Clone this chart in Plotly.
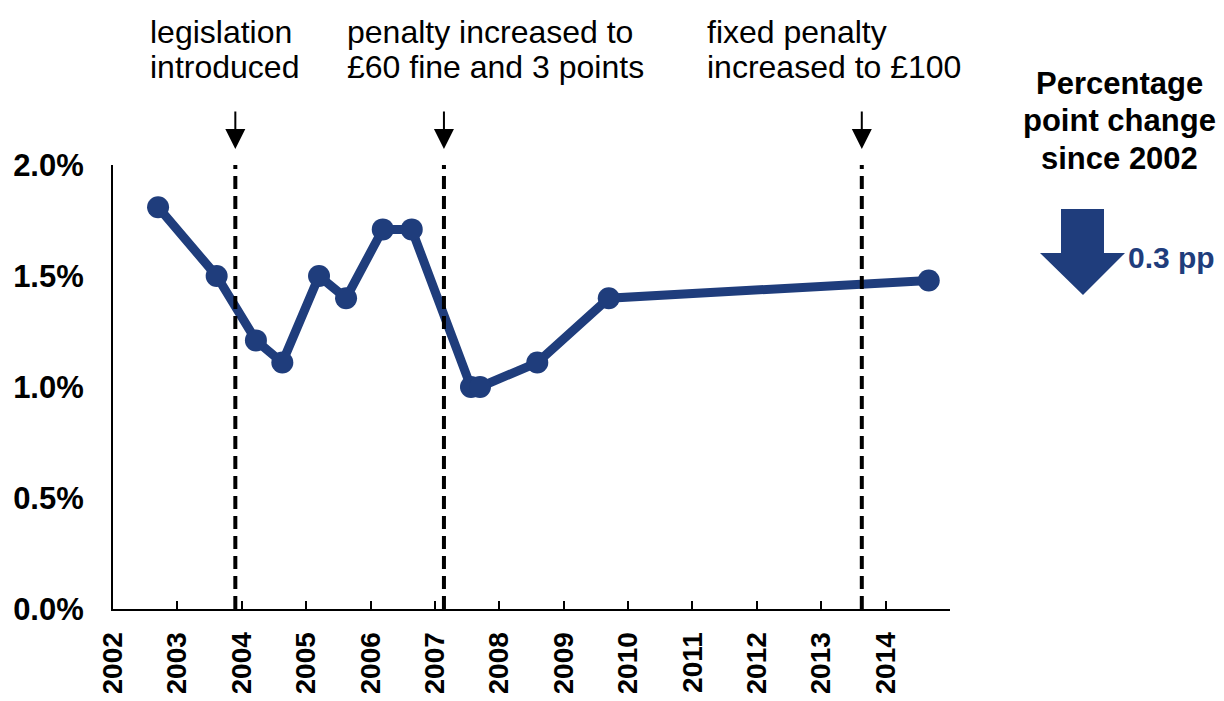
import plotly.graph_objects as go

# ---- data ----
years = [2002.70, 2003.61, 2004.22, 2004.63, 2005.20, 2005.62, 2006.19, 2006.64,
         2007.56, 2007.70, 2008.59, 2009.70, 2014.67]
rates = [1.81, 1.50, 1.21, 1.11, 1.50, 1.40, 1.71, 1.71, 1.00, 1.00, 1.11, 1.40, 1.48]
tick_years = list(range(2002, 2015))
tick_labels = [str(y) for y in tick_years]
y_ticks = [0.0, 0.5, 1.0, 1.5, 2.0]
y_tick_labels = ["0.0%", "0.5%", "1.0%", "1.5%", "2.0%"]
event_years = [2003.90, 2007.14, 2013.63]
event_labels = [["legislation", "introduced"],
                ["penalty increased to", "£60 fine and 3 points"],
                ["fixed penalty", "increased to £100"]]
change_title = ["Percentage", "point change", "since 2002"]
change_value = "0.3 pp"

BLUE = "#1F3D7C"
FONT = "Liberation Sans, Arial, sans-serif"
OFF = 8  # page body margin
W, H = 1224 - 2 * OFF, 701 - 2 * OFF
L, T = 105, 157
R = W - (950 - OFF)
B = H - (609 - OFF)
PW, PH = W - L - R, H - T - B


def px(x):
    """reference-window pixel x -> paper x"""
    return (x - OFF - L) / PW


def py(y):
    """reference-window pixel y -> paper y"""
    return (H - B - (y - OFF)) / PH


fig = go.Figure()
fig.add_trace(go.Scatter(
    x=years, y=rates, mode="lines+markers",
    line=dict(color=BLUE, width=9),
    marker=dict(color=BLUE, size=22),
    showlegend=False, hoverinfo="x+y",
))

shapes = []
for ev in event_years:
    shapes.append(dict(type="line", xref="x", yref="y", x0=ev, x1=ev, y0=0, y1=2.0,
                       line=dict(color="black", width=4, dash="13px,7px"), layer="above"))

# big down arrow (decoration)
ax_pts = [(1061, 209), (1104, 209), (1104, 253), (1125, 253), (1083, 295),
          (1040, 253), (1061, 253)]
path = "M " + " L ".join(f"{px(x):.5f},{py(y):.5f}" for x, y in ax_pts) + " Z"
shapes.append(dict(type="path", xref="paper", yref="paper", path=path,
                   fillcolor=BLUE, line=dict(width=0)))

annotations = []
# arrows above dashed lines
for ev in event_years:
    annotations.append(dict(x=ev, y=py(149), xref="x", yref="paper",
                            ax=0, ay=-46, axref="pixel", ayref="pixel",
                            showarrow=True, arrowhead=2, arrowsize=2, arrowwidth=2,
                            arrowcolor="black", text=" "))
# event texts
text_left = [148, 345, 705]
for left, lines in zip(text_left, event_labels):
    for i, line in enumerate(lines):
        annotations.append(dict(x=px(left), y=py(32 + 35 * i), xref="paper", yref="paper",
                                xanchor="left", yanchor="middle", showarrow=False,
                                text=line, font=dict(family=FONT, size=32, color="black")))
# right-side title
for i, line in enumerate(change_title):
    annotations.append(dict(x=px(1119), y=py(84 + 37 * i), xref="paper", yref="paper",
                            xanchor="center", yanchor="middle", showarrow=False,
                            text=f"<b>{line}</b>",
                            font=dict(family=FONT, size=31, color="black")))
annotations.append(dict(x=px(1126), y=py(257), xref="paper", yref="paper",
                        xanchor="left", yanchor="middle", showarrow=False,
                        text=f"<b>{change_value}</b>",
                        font=dict(family=FONT, size=30, color=BLUE)))

fig.update_layout(
    width=W, height=H,
    margin=dict(l=L, r=R, t=T, b=B, pad=0),
    paper_bgcolor="white", plot_bgcolor="white",
    font=dict(family=FONT, color="black"),
    shapes=shapes, annotations=annotations,
    xaxis=dict(range=[2002, 2015], tickvals=tick_years, ticktext=tick_labels,
               tickangle=-90, showline=True, linecolor="black", linewidth=2,
               ticks="inside", ticklen=8, tickwidth=2, tickcolor="black",
               showgrid=False, zeroline=False, ticklabelstandoff=10, automargin=False,
               tickfont=dict(family=FONT, size=28, color="black", weight="bold")),
    yaxis=dict(range=[0, 2.0], tickvals=y_ticks, ticktext=y_tick_labels,
               showline=True, linecolor="black", linewidth=2, ticks="",
               showgrid=False, zeroline=False, ticklabelstandoff=21, automargin=False,
               tickfont=dict(family=FONT, size=31, color="black", weight="bold")),
)

fig.write_html("out.html")
